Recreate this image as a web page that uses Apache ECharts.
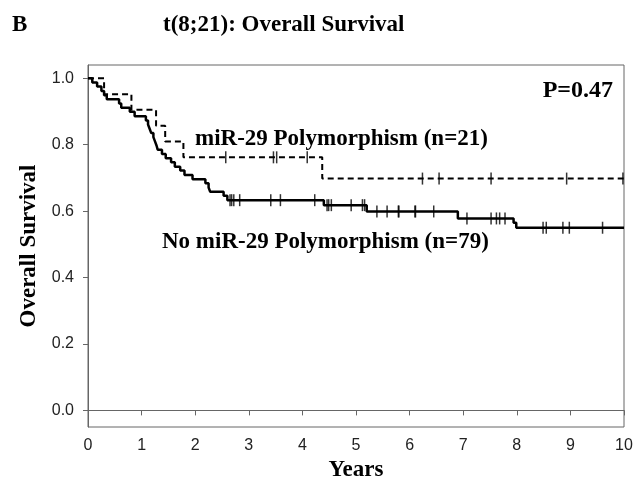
<!DOCTYPE html>
<html>
<head>
<meta charset="utf-8">
<title>t(8;21): Overall Survival</title>
<script src="https://cdn.jsdelivr.net/npm/echarts@6/dist/echarts.min.js"></script>
<style>
    html, body { margin: 0; padding: 0; background: #fff; }
    #chartKM { width: 635px; height: 481px; }
</style>
</head>
<body>
<div id="chartKM"></div>
<script>
    // tick labels
    var xTicks = [0, 1, 2, 3, 4, 5, 6, 7, 8, 9, 10];
    var yTicks = [0, 0.2, 0.4, 0.6, 0.8, 1.0];

    // No miR-29 polymorphism (n=79): step times (years) and survival after each step
    var noPolyTimes = [0, 0.08, 0.17, 0.25, 0.30, 0.35, 0.58, 0.62, 0.78, 0.87, 1.08, 1.12, 1.15, 1.18,
        1.22, 1.25, 1.28, 1.30, 1.38, 1.45, 1.55, 1.62, 1.72, 1.80, 1.95, 2.19, 2.25, 2.28, 2.53, 2.60,
        4.40, 5.20, 6.90, 7.94, 7.99, 10];
    var noPolySurv = [1.000, 0.987, 0.975, 0.962, 0.949, 0.937, 0.924, 0.911, 0.899, 0.886, 0.873, 0.861, 0.848, 0.835,
        0.823, 0.810, 0.797, 0.785, 0.772, 0.759, 0.747, 0.734, 0.722, 0.709, 0.696, 0.684, 0.671, 0.658, 0.646, 0.633,
        0.618, 0.599, 0.578, 0.565, 0.550, 0.550];
    var noPolyCensor = [2.65, 2.68, 2.72, 2.83, 3.41, 3.59, 4.23, 4.46, 4.49, 4.54, 4.91, 5.12, 5.16, 5.39, 5.58,
        5.79, 5.80, 6.10, 6.11, 6.45, 7.07, 7.52, 7.62, 7.68, 7.78, 8.49, 8.55, 8.86, 8.98, 9.60];

    // miR-29 polymorphism (n=21)
    var polyTimes = [0, 0.30, 0.81, 1.27, 1.44, 1.78, 4.37, 10];
    var polySurv = [1.000, 0.952, 0.905, 0.857, 0.810, 0.762, 0.698, 0.698];
    var polyCensor = [2.57, 3.46, 3.52, 4.09, 6.24, 6.55, 7.52, 8.93, 9.98];

    var serif = '"Liberation Serif", "Times New Roman", serif';
    var sans = '"Liberation Sans", Arial, sans-serif';

    function pairs(times, surv) {
        return times.map(function (t, i) { return [t, surv[i]]; });
    }
    // survival value of the step curve at time t (for placing censor marks)
    function survAt(times, surv, t) {
        var v = surv[0];
        for (var i = 0; i < times.length; i++) {
            if (times[i] <= t) v = surv[i];
        }
        return v;
    }
    function censorPoints(cens, times, surv) {
        return cens.map(function (t) { return [t, survAt(times, surv, t)]; });
    }

    var chart = echarts.init(document.getElementById('chartKM'));
    chart.setOption({
        animation: false,
        grid: {
            left: 88,
            right: 11,
            top: 65,
            bottom: 54,
            outerBoundsMode: 'none',
            show: true,
            borderColor: '#666',
            borderWidth: 1
        },
        xAxis: {
            type: 'value',
            min: xTicks[0],
            max: xTicks[xTicks.length - 1],
            interval: 1,
            name: 'Years',
            nameLocation: 'middle',
            nameGap: 29,
            nameTextStyle: { fontFamily: serif, fontWeight: 'bold', fontSize: 23, color: '#000' },
            axisLine: { lineStyle: { color: '#666' } },
            axisTick: { inside: false, length: 5, lineStyle: { color: '#666' } },
            axisLabel: { margin: 11, fontFamily: sans, fontSize: 16, color: '#222' },
            splitLine: { show: false }
        },
        yAxis: {
            type: 'value',
            min: -0.05,
            max: 1.04,
            name: 'Overall Survival',
            nameLocation: 'middle',
            nameGap: 39,
            nameTextStyle: { fontFamily: serif, fontWeight: 'bold', fontSize: 23, color: '#000' },
            axisLine: { show: true, lineStyle: { color: '#666' } },
            axisTick: { show: true, length: 5, customValues: yTicks, lineStyle: { color: '#666' } },
            axisLabel: {
                customValues: yTicks,
                margin: 14,
                fontFamily: sans,
                fontSize: 16,
                color: '#222',
                formatter: function (v) { return v.toFixed(1); }
            },
            splitLine: { show: false }
        },
        graphic: [
            { type: 'text', x: 12, y: 25, style: { text: 'B', font: 'bold 23px ' + serif, fill: '#000', textVerticalAlign: 'middle' } },
            { type: 'text', x: 163, y: 25, style: { text: 't(8;21): Overall Survival', font: 'bold 23px ' + serif, fill: '#000', textVerticalAlign: 'middle' } },
            { type: 'text', x: 613, y: 91, style: { text: 'P=0.47', font: 'bold 24px ' + serif, fill: '#000', textAlign: 'right', textVerticalAlign: 'middle' } },
            { type: 'text', x: 195, y: 139, style: { text: 'miR-29 Polymorphism (n=21)', font: 'bold 23px ' + serif, fill: '#000', textVerticalAlign: 'middle' } },
            { type: 'text', x: 162, y: 242, style: { text: 'No miR-29 Polymorphism (n=79)', font: 'bold 23px ' + serif, fill: '#000', textVerticalAlign: 'middle' } }
        ],
        series: [
            {
                name: 'No miR-29 Polymorphism',
                type: 'line',
                step: 'end',
                symbol: 'none',
                data: pairs(noPolyTimes, noPolySurv),
                lineStyle: { color: '#000', width: 2.5 }
            },
            {
                name: 'miR-29 Polymorphism',
                type: 'line',
                step: 'end',
                symbol: 'none',
                data: pairs(polyTimes, polySurv),
                lineStyle: { color: '#000', width: 2, type: [6, 4] }
            },
            {
                type: 'scatter',
                symbol: 'rect',
                symbolSize: [1.5, 12],
                itemStyle: { color: '#000' },
                data: censorPoints(noPolyCensor, noPolyTimes, noPolySurv)
            },
            {
                type: 'scatter',
                symbol: 'rect',
                symbolSize: [1.5, 12],
                itemStyle: { color: '#000' },
                data: censorPoints(polyCensor, polyTimes, polySurv)
            }
        ]
    });
</script>
</body>
</html>
